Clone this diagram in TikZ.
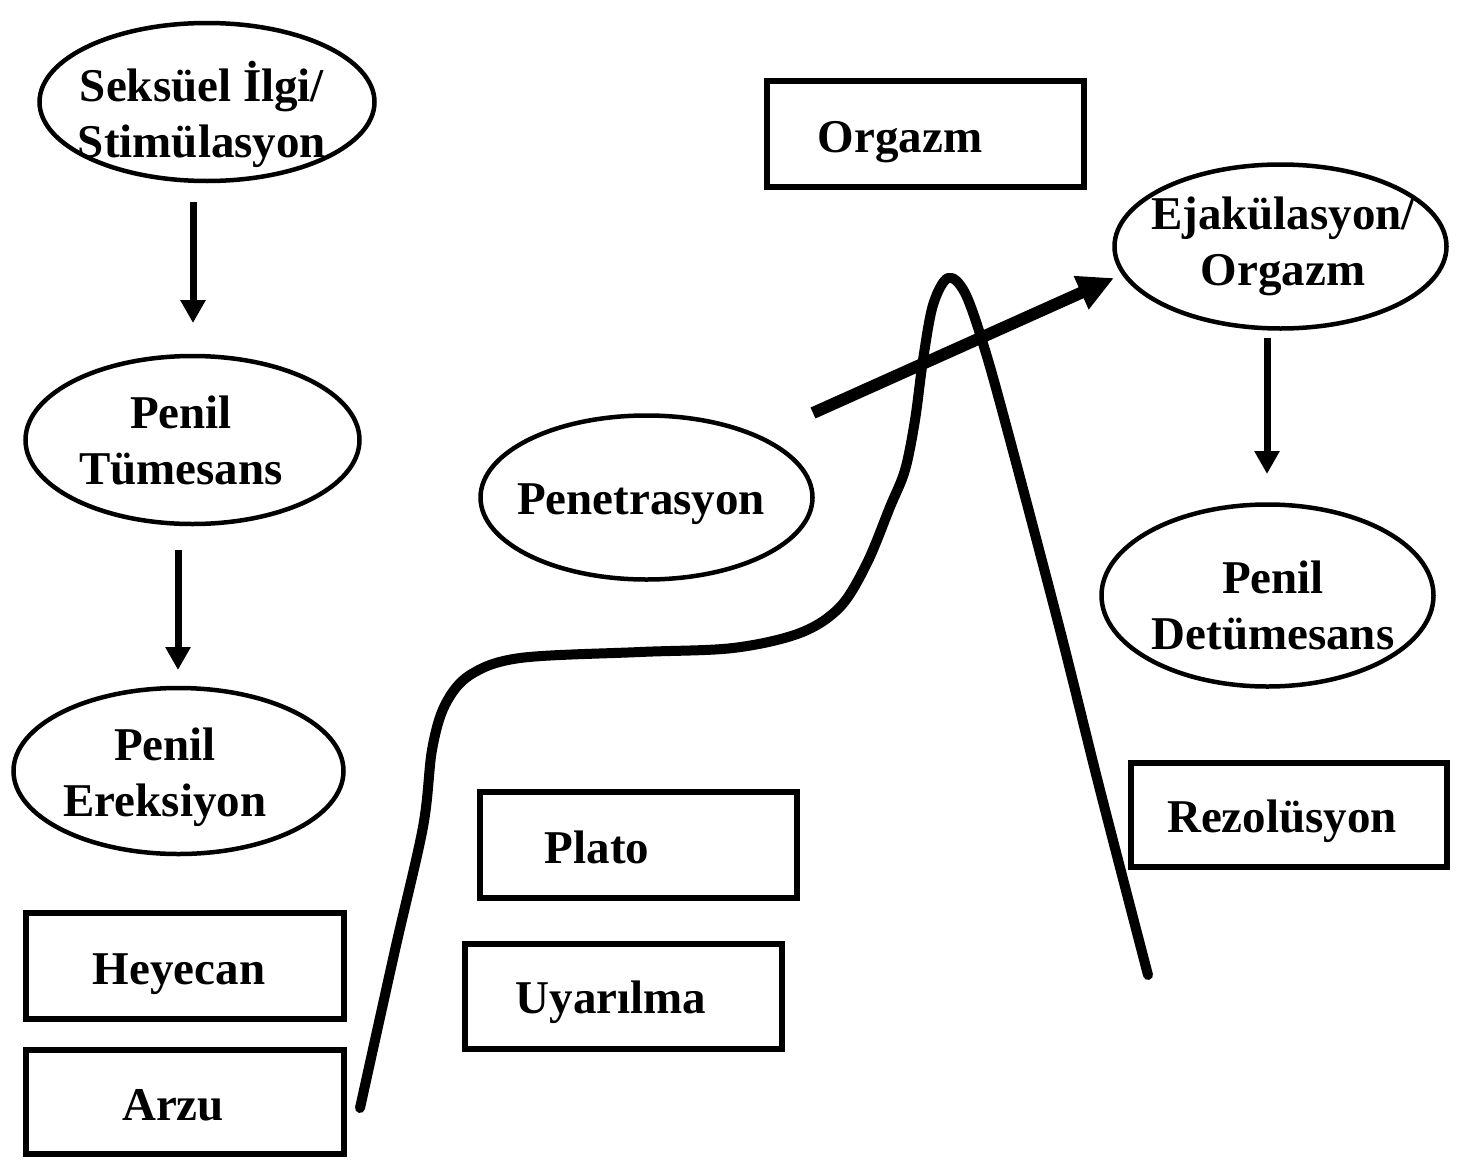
\documentclass[tikz,border=0pt]{standalone}
\usepackage{fontspec}
\setmainfont{Liberation Serif}
\usetikzlibrary{shapes.geometric,arrows.meta}
\begin{document}
\begin{tikzpicture}[x=1pt,y=-1pt,
  oval/.style={draw, ellipse, line width=4.5pt, inner sep=0pt},
  box/.style={draw, rectangle, line width=6pt, inner sep=0pt},
  lbl/.style={font=\fontsize{47}{56}\selectfont\bfseries, inner sep=0pt, align=center, anchor=base},
  darrow/.style={line width=7pt, -{Triangle[width=24pt,length=23pt]}},
  bigarrow/.style={line width=12pt, -{Triangle[width=34pt,length=36pt]}},
  curvestyle/.style={line width=10pt, line join=round, line cap=round}]
\useasboundingbox (0,0) rectangle (1461,1159);

% ellipses
\node[oval, minimum width=335pt, minimum height=158pt] (e1) at (207,102) {};
\node[oval, minimum width=334pt, minimum height=168pt] (e2) at (192.5,440) {};
\node[oval, minimum width=330pt, minimum height=166pt] (e3) at (178.5,771) {};
\node[oval, minimum width=332pt, minimum height=164pt] (e4) at (646.5,497.5) {};
\node[oval, minimum width=332pt, minimum height=164pt] (e5) at (1280.5,246.5) {};
\node[oval, minimum width=332pt, minimum height=182pt] (e6) at (1267.5,595.5) {};

% boxes
\node[box, minimum width=317pt, minimum height=106pt] (b1) at (925.5,134) {};
\node[box, minimum width=318pt, minimum height=106pt] (b2) at (185,966) {};
\node[box, minimum width=318pt, minimum height=104pt] (b3) at (185,1102) {};
\node[box, minimum width=317pt, minimum height=106pt] (b4) at (638.5,845) {};
\node[box, minimum width=317pt, minimum height=105pt] (b5) at (623.5,996.5) {};
\node[box, minimum width=316pt, minimum height=104pt] (b6) at (1289,815) {};

% labels
\node[lbl] (t1) at (202,157) {Seksüel İlgi/\\Stimülasyon};
\node[lbl] (t2) at (181,484) {Penil\\Tümesans};
\node[lbl] (t3) at (165,816) {Penil\\Ereksiyon};
\node[lbl] (t4) at (641,514) {Penetrasyon};
\node[lbl] (t5) at (1283,285) {Ejakülasyon/\\Orgazm};
\node[lbl] (t6) at (1273,649) {Penil\\Detümesans};
\node[lbl] (t7) at (900,152) {Orgazm};
\node[lbl] (t8) at (179,984) {Heyecan};
\node[lbl] (t9) at (173,1120) {Arzu};
\node[lbl] (t10) at (597,863) {Plato};
\node[lbl] (t11) at (611,1013) {Uyarılma};
\node[lbl] (t12) at (1282,832) {Rezolüsyon};

% arrow end points
\coordinate (a1s) at (193,202);
\coordinate (a1e) at (193,323);
\coordinate (a2s) at (178,550);
\coordinate (a2e) at (178,670);
\coordinate (a3s) at (1267,338);
\coordinate (a3e) at (1267,474);
\coordinate (a4s) at (813,413);
\coordinate (a4e) at (1114,278);

\draw[darrow] (a1s) -- (a1e);
\draw[darrow] (a2s) -- (a2e);
\draw[darrow] (a3s) -- (a3e);

% response curve
\draw[curvestyle] plot[smooth, tension=0.55] coordinates {
 (360,1108) (395,950) (423,827) (432,750) (445,705) (470,675) (520,658)
 (640,652) (733,648) (800,633) (840,607) (867,563) (890,507) (905,470)
 (915,420) (923,360) (933,305) (948,278) (965,293) (985,350) (1010,440)
 (1060,630) (1100,790) (1148,975)};

\draw[bigarrow] (a4s) -- (a4e);
\end{tikzpicture}
\end{document}
